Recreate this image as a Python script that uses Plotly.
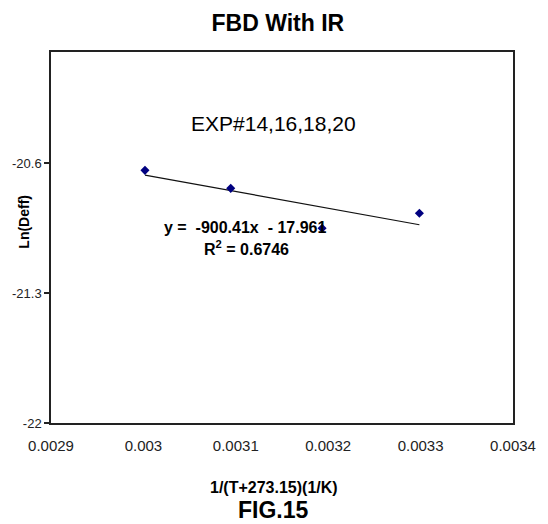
import plotly.graph_objects as go

# Inverse absolute temperature, 1/(T+273.15) in 1/K
inv_temp = [0.0030017, 0.0030945, 0.0031934, 0.0032987]
# Natural log of effective diffusivity
ln_deff = [-20.638, -20.735, -20.950, -20.869]

# Linear trendline coefficients as reported on the chart
slope = -900.41
intercept = -17.961
r_squared = 0.6746

x_ticks = [0.0029, 0.0030, 0.0031, 0.0032, 0.0033, 0.0034]
x_tick_text = ["0.0029", "0.003", "0.0031", "0.0032", "0.0033", "0.0034"]
y_ticks = [-22.0, -21.3, -20.6]
y_tick_text = ["-22", "-21.3", "-20.6"]

FONT = "Liberation Sans, Arial, sans-serif"

trend_x = [min(inv_temp), max(inv_temp)]
trend_y = [slope * v + intercept for v in trend_x]

fig = go.Figure()
fig.add_trace(go.Scatter(
    x=trend_x, y=trend_y, mode="lines",
    line=dict(color="#111111", width=1.2),
    hoverinfo="skip", showlegend=False,
))
fig.add_trace(go.Scatter(
    x=inv_temp, y=ln_deff, mode="markers",
    marker=dict(symbol="diamond", size=7, color="#000080"),
    showlegend=False,
))

fig.update_layout(
    width=548, height=524,
    margin=dict(l=48, r=25, t=52, b=101),
    paper_bgcolor="white", plot_bgcolor="white",
    font=dict(family=FONT, color="black"),
    title=dict(text="<b>FBD With IR</b>", x=0.507, xanchor="center",
               y=0.956, yanchor="middle", font=dict(size=23, family=FONT)),
)

fig.update_xaxes(
    range=[0.0029, 0.0034], tickvals=x_ticks, ticktext=x_tick_text,
    ticks="", showgrid=False, zeroline=False,
    showline=True, linecolor="#222222", linewidth=1.5, mirror=True,
    tickfont=dict(size=15, family=FONT, color="#222222"),
    ticklabelstandoff=8,
)
fig.update_yaxes(
    range=[-22, -20], tickvals=y_ticks, ticktext=y_tick_text,
    ticks="outside", ticklen=5, tickcolor="#222222", tickwidth=1.5,
    showgrid=False, zeroline=False,
    showline=True, linecolor="#222222", linewidth=1.5, mirror=True,
    tickfont=dict(size=13, family=FONT, color="#222222"),
)

annotations = [
    dict(text="EXP#14,16,18,20", x=0.482, y=0.806,
         font=dict(size=21, family=FONT)),
    dict(text="<b>y =  -900.41x  - 17.961</b>", x=0.42, y=0.528,
         font=dict(size=16, family=FONT)),
    dict(text=f"<b>R<sup>2</sup> = {r_squared}</b>", x=0.423, y=0.472,
         font=dict(size=16, family=FONT)),
    dict(text="<b>Ln(Deff)</b>", x=-0.059, y=0.542, textangle=-90,
         font=dict(size=14, family=FONT)),
    dict(text="<b>1/(T+273.15)(1/K)</b>", x=0.482, y=-0.175,
         font=dict(size=16, family=FONT)),
    dict(text="<b>FIG.15</b>", x=0.482, y=-0.235,
         font=dict(size=23, family=FONT)),
]
for a in annotations:
    fig.add_annotation(xref="paper", yref="paper", showarrow=False,
                       xanchor="center", yanchor="middle", **a)

fig.write_html("out.html")
